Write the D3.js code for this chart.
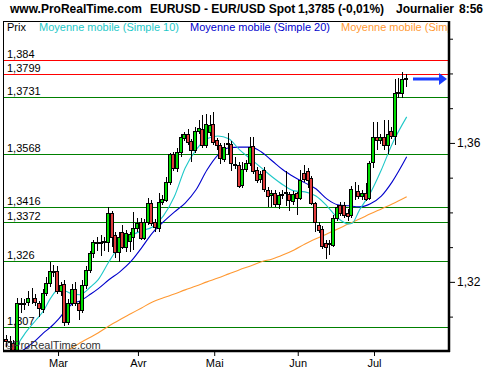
<!DOCTYPE html>
<html>
<head>
<meta charset="utf-8">
<script src="https://cdn.jsdelivr.net/npm/d3@7"></script>
<style>
  body { margin: 0; background: #fff; }
  svg { display: block; font-family: "Liberation Sans", Arial, sans-serif; }
</style>
</head>
<body>
<div id="chart"></div>
<script>
// daily EUR/USD candles, one per trading day (index 0 = first visible day)
const open = [1.3035, 1.3030, 1.3024, 1.3005, 1.3140, 1.3137, 1.3142, 1.3152, 1.3154, 1.3138,
  1.3122, 1.3168, 1.3197, 1.3232, 1.3232, 1.3174, 1.3195, 1.3085, 1.3140, 1.3180,
  1.3140, 1.3118, 1.3191, 1.3235, 1.3283, 1.3315, 1.3313, 1.3316, 1.3316, 1.3398,
  1.3335, 1.3286, 1.3345, 1.3300, 1.3318, 1.3329, 1.3355, 1.3373, 1.3327, 1.3373,
  1.3427, 1.3373, 1.3355, 1.3430, 1.3436, 1.3488, 1.3568, 1.3528, 1.3574, 1.3615,
  1.3626, 1.3605, 1.3580, 1.3634, 1.3640, 1.3594, 1.3632, 1.3655, 1.3609, 1.3594,
  1.3554, 1.3598, 1.3597, 1.3540, 1.3537, 1.3479, 1.3525, 1.3542, 1.3591, 1.3522,
  1.3496, 1.3522, 1.3465, 1.3450, 1.3456, 1.3424, 1.3450, 1.3455, 1.3453, 1.3433,
  1.3455, 1.3442, 1.3512, 1.3520, 1.3499, 1.3427, 1.3364, 1.3352, 1.3312, 1.3310,
  1.3306, 1.3384, 1.3421, 1.3421, 1.3399, 1.3393, 1.3468, 1.3462, 1.3447, 1.3456,
  1.3442, 1.3545, 1.3617, 1.3608, 1.3617, 1.3594, 1.3635, 1.3620, 1.3744, 1.3744,
  1.3786];
const high = [1.3048, 1.3045, 1.3034, 1.3155, 1.3155, 1.3152, 1.3175, 1.3183, 1.3165, 1.3145,
  1.3180, 1.3215, 1.3258, 1.3250, 1.3245, 1.3200, 1.3205, 1.3150, 1.3195, 1.3200,
  1.3145, 1.3205, 1.3245, 1.3290, 1.3320, 1.3330, 1.3335, 1.3330, 1.3416, 1.3405,
  1.3345, 1.3344, 1.3365, 1.3350, 1.3345, 1.3401, 1.3385, 1.3384, 1.3380, 1.3442,
  1.3435, 1.3380, 1.3456, 1.3450, 1.3502, 1.3572, 1.3575, 1.3585, 1.3625, 1.3632,
  1.3640, 1.3610, 1.3646, 1.3666, 1.3680, 1.3683, 1.3681, 1.3689, 1.3615, 1.3600,
  1.3600, 1.3629, 1.3605, 1.3560, 1.3545, 1.3545, 1.3550, 1.3617, 1.3617, 1.3530,
  1.3520, 1.3530, 1.3472, 1.3465, 1.3465, 1.3460, 1.3465, 1.3520, 1.3460, 1.3462,
  1.3460, 1.3522, 1.3537, 1.3528, 1.3505, 1.3430, 1.3372, 1.3360, 1.3320, 1.3320,
  1.3392, 1.3422, 1.3430, 1.3430, 1.3410, 1.3476, 1.3488, 1.3479, 1.3465, 1.3485,
  1.3548, 1.3660, 1.3660, 1.3625, 1.3666, 1.3666, 1.3645, 1.3784, 1.3787, 1.3804,
  1.3799];
const low = [1.3012, 1.3005, 1.3000, 1.3000, 1.3110, 1.3120, 1.3130, 1.3135, 1.3130, 1.3100,
  1.3110, 1.3160, 1.3185, 1.3215, 1.3165, 1.3160, 1.3073, 1.3075, 1.3130, 1.3130,
  1.3091, 1.3110, 1.3180, 1.3225, 1.3270, 1.3290, 1.3275, 1.3290, 1.3286, 1.3300,
  1.3270, 1.3258, 1.3295, 1.3285, 1.3285, 1.3292, 1.3345, 1.3321, 1.3320, 1.3365,
  1.3360, 1.3345, 1.3345, 1.3420, 1.3430, 1.3480, 1.3520, 1.3515, 1.3560, 1.3605,
  1.3595, 1.3545, 1.3570, 1.3625, 1.3585, 1.3585, 1.3620, 1.3595, 1.3580, 1.3540,
  1.3545, 1.3565, 1.3520, 1.3525, 1.3470, 1.3470, 1.3515, 1.3535, 1.3510, 1.3485,
  1.3485, 1.3460, 1.3416, 1.3416, 1.3416, 1.3410, 1.3440, 1.3418, 1.3404, 1.3420,
  1.3393, 1.3435, 1.3488, 1.3470, 1.3420, 1.3344, 1.3340, 1.3295, 1.3266, 1.3278,
  1.3300, 1.3375, 1.3390, 1.3385, 1.3375, 1.3385, 1.3436, 1.3440, 1.3436, 1.3433,
  1.3436, 1.3528, 1.3580, 1.3598, 1.3580, 1.3568, 1.3612, 1.3594, 1.3730, 1.3730,
  1.3761];
const close = [1.3030, 1.3028, 1.3005, 1.3140, 1.3137, 1.3140, 1.3154, 1.3150, 1.3142, 1.3125,
  1.3168, 1.3197, 1.3232, 1.3228, 1.3174, 1.3190, 1.3085, 1.3140, 1.3180, 1.3140,
  1.3118, 1.3191, 1.3235, 1.3283, 1.3315, 1.3312, 1.3316, 1.3318, 1.3398, 1.3329,
  1.3286, 1.3329, 1.3300, 1.3340, 1.3338, 1.3355, 1.3370, 1.3327, 1.3373, 1.3427,
  1.3370, 1.3358, 1.3430, 1.3439, 1.3488, 1.3568, 1.3528, 1.3574, 1.3617, 1.3626,
  1.3603, 1.3580, 1.3634, 1.3643, 1.3594, 1.3655, 1.3652, 1.3603, 1.3594, 1.3557,
  1.3588, 1.3600, 1.3542, 1.3536, 1.3476, 1.3525, 1.3542, 1.3588, 1.3519, 1.3494,
  1.3510, 1.3468, 1.3447, 1.3455, 1.3424, 1.3450, 1.3452, 1.3458, 1.3436, 1.3453,
  1.3442, 1.3494, 1.3496, 1.3494, 1.3427, 1.3373, 1.3350, 1.3303, 1.3300, 1.3312,
  1.3384, 1.3416, 1.3399, 1.3393, 1.3391, 1.3468, 1.3466, 1.3447, 1.3456, 1.3439,
  1.3542, 1.3617, 1.3609, 1.3617, 1.3594, 1.3626, 1.3620, 1.3744, 1.3747, 1.3784,
  1.3785];

// moving averages: [day index, value]
const ma10 = [[2, 1.3000], [3, 1.3021], [5, 1.3053], [8, 1.3091], [10, 1.3117], [12, 1.3154],
  [14, 1.3177], [16, 1.3174], [18, 1.3165], [20, 1.3163], [23, 1.3186], [25, 1.3206],
  [28, 1.3258], [31, 1.3304], [34, 1.3332], [37, 1.3347], [40, 1.3358], [43, 1.3390],
  [46, 1.3445], [49, 1.3528], [52, 1.3580], [55, 1.3612], [58, 1.3620], [61, 1.3612],
  [64, 1.3580], [67, 1.3554], [70, 1.3528], [73, 1.3502], [76, 1.3479], [79, 1.3462],
  [82, 1.3459], [85, 1.3447], [88, 1.3419], [91, 1.3384], [94, 1.3367], [95, 1.3369],
  [97, 1.3407], [100, 1.3456], [103, 1.3522], [106, 1.3597], [110, 1.3675]];
const ma20 = [[4, 1.3000], [6, 1.3016], [8, 1.3033], [10, 1.3053], [12, 1.3070], [14, 1.3091],
  [16, 1.3117], [18, 1.3137], [20, 1.3145], [23, 1.3165], [25, 1.3180], [28, 1.3206],
  [31, 1.3229], [34, 1.3258], [37, 1.3298], [40, 1.3341], [43, 1.3373], [46, 1.3401],
  [49, 1.3427], [52, 1.3465], [55, 1.3522], [58, 1.3565], [61, 1.3586], [64, 1.3588],
  [67, 1.3588], [70, 1.3574], [73, 1.3548], [76, 1.3522], [79, 1.3502], [82, 1.3485],
  [85, 1.3468], [88, 1.3439], [91, 1.3422], [94, 1.3419], [97, 1.3416], [100, 1.3425],
  [103, 1.3447], [106, 1.3488], [110, 1.3560]];
const ma100 = [[16, 1.2998], [20, 1.3024], [25, 1.3053], [28, 1.3073], [31, 1.3091], [34, 1.3108],
  [37, 1.3125], [40, 1.3142], [43, 1.3154], [46, 1.3165], [49, 1.3177], [52, 1.3188],
  [55, 1.3200], [58, 1.3211], [61, 1.3223], [64, 1.3235], [67, 1.3246], [70, 1.3258],
  [73, 1.3266], [76, 1.3278], [79, 1.3292], [82, 1.3309], [85, 1.3324], [88, 1.3338],
  [91, 1.3352], [94, 1.3367], [97, 1.3381], [100, 1.3396], [103, 1.3410], [106, 1.3424],
  [110, 1.3445]];

const levels = [1.384, 1.3799, 1.3731, 1.3568, 1.3416, 1.3372, 1.326, 1.307];
const months = ['Mar', 'Avr', 'Mai', 'Jun', 'Jul'];
const monthStart = [14, 36, 57, 80, 101];
const yMajor = [1.32, 1.36];
const yMinor = [1.31, 1.33, 1.34, 1.35, 1.37, 1.38, 1.39];

const width = 500;
const height = 370;
const frame = { left: 3, right: 449, top: 21, bottom: 351 };
const fmt = v => String(v).replace('.', ',');
const last = close[close.length - 1];

const x = d3.scaleLinear().domain([0, 110]).range([7.2, 406.7]);
const y = d3.scaleLinear().domain([1.3001, 1.3951]).range([351, 21]);

const svg = d3.select('#chart').append('svg')
  .attr('width', width)
  .attr('height', height);

svg.append('rect').attr('width', width).attr('height', height).attr('fill', '#fff');

svg.append('clipPath').attr('id', 'plot')
  .append('rect')
  .attr('x', frame.left + 1)
  .attr('y', frame.top + 1)
  .attr('width', frame.right - frame.left - 2)
  .attr('height', frame.bottom - frame.top - 2);

// title
const title = [
  ['www.ProRealTime.com', 10],
  ['EURUSD - EUR/USD Spot', 150],
  ['1,3785 (-0,01%)', 298],
  ['Journalier', 396],
  ['8:56', 459],
];
svg.append('g').selectAll('text')
  .data(title)
  .enter().append('text')
  .attr('x', d => d[1])
  .attr('y', 13)
  .attr('font-size', 12)
  .attr('font-weight', 'bold')
  .text(d => d[0]);

// legend
const legend = [
  ['Prix', 7, '#000'],
  ['Moyenne mobile (Simple 10)', 39, '#1ec8c8'],
  ['Moyenne mobile (Simple 20)', 190, '#0000cc'],
  ['Moyenne mobile (Simple 100)', 341, '#ff9933'],
];
svg.append('g').attr('clip-path', 'url(#plot)').selectAll('text')
  .data(legend)
  .enter().append('text')
  .attr('x', d => d[1])
  .attr('y', 31)
  .attr('font-size', 11)
  .attr('fill', d => d[2])
  .text(d => d[0]);

const plot = svg.append('g').attr('clip-path', 'url(#plot)');

// support / resistance levels
const lv = plot.append('g').selectAll('g')
  .data(levels)
  .enter().append('g');
lv.append('line')
  .attr('x1', frame.left)
  .attr('x2', frame.right)
  .attr('y1', d => Math.round(y(d)) + 0.5)
  .attr('y2', d => Math.round(y(d)) + 0.5)
  .attr('stroke', d => (d > last ? '#ff0000' : '#008000'))
  .attr('shape-rendering', 'crispEdges');
lv.append('text')
  .attr('x', 7)
  .attr('y', d => Math.round(y(d)) - 2)
  .attr('font-size', 11)
  .text(fmt);

// watermark
svg.append('text')
  .attr('x', 5)
  .attr('y', 349)
  .attr('font-size', 11)
  .attr('fill', '#333')
  .text('©ProRealTime.com');

// moving averages
const maLine = d3.line()
  .x(d => x(d[0]))
  .y(d => y(d[1]))
  .curve(d3.curveMonotoneX);

[[ma100, '#ff9933'], [ma20, '#0000cc'], [ma10, '#1ec8c8']].forEach(([data, color]) => {
  plot.append('path')
    .datum(data)
    .attr('d', maLine)
    .attr('fill', 'none')
    .attr('stroke', color)
    .attr('stroke-width', 1.1);
});

// candles
const idx = d3.range(open.length);
const candle = plot.append('g').selectAll('g')
  .data(idx)
  .enter().append('g');

candle.append('line')
  .attr('x1', i => Math.round(x(i)) - 0.5)
  .attr('x2', i => Math.round(x(i)) - 0.5)
  .attr('y1', i => Math.round(y(high[i])))
  .attr('y2', i => Math.round(y(low[i])))
  .attr('stroke', '#000')
  .attr('shape-rendering', 'crispEdges');

candle.append('rect')
  .attr('x', i => Math.round(x(i)) - 2.5)
  .attr('y', i => Math.round(y(Math.max(open[i], close[i]))) + 0.5)
  .attr('width', 3)
  .attr('height', i => Math.max(0, Math.round(y(Math.min(open[i], close[i]))) - Math.round(y(Math.max(open[i], close[i])))))
  .attr('fill', i => (close[i] >= open[i] ? '#00dd00' : '#e03c3c'))
  .attr('stroke', '#000')
  .attr('shape-rendering', 'crispEdges');

// frame
svg.append('path')
  .attr('d', `M${frame.left + 0.5},${frame.bottom}V${frame.top + 0.5}H${frame.right}`)
  .attr('fill', 'none')
  .attr('stroke', '#000')
  .attr('shape-rendering', 'crispEdges');

svg.append('line')
  .attr('x1', frame.right).attr('x2', frame.right)
  .attr('y1', frame.top).attr('y2', frame.bottom + 1)
  .attr('stroke', '#000').attr('stroke-width', 2.5);

svg.append('line')
  .attr('x1', frame.left).attr('x2', frame.right + 1)
  .attr('y1', frame.bottom).attr('y2', frame.bottom)
  .attr('stroke', '#000').attr('stroke-width', 2.5);

// right price axis
const yMinorAxis = svg.append('g')
  .attr('transform', `translate(${frame.right + 1},0)`)
  .call(d3.axisRight(y).tickValues(yMinor).tickSize(3).tickFormat(''));
yMinorAxis.select('.domain').remove();

const yMajorAxis = svg.append('g')
  .attr('transform', `translate(${frame.right + 1},0)`)
  .call(d3.axisRight(y).tickValues(yMajor).tickSize(5).tickPadding(2).tickFormat(fmt));
yMajorAxis.select('.domain').remove();
yMajorAxis.selectAll('text')
  .attr('font-size', 12)
  .attr('font-family', '"Liberation Sans", Arial, sans-serif');

// month axis
const xAxis = svg.append('g')
  .attr('transform', `translate(0,${frame.bottom + 1})`)
  .call(d3.axisBottom(x).tickValues(monthStart).tickSize(4).tickPadding(3)
    .tickFormat((d, k) => months[k]));
xAxis.select('.domain').remove();
xAxis.selectAll('text')
  .attr('font-size', 11)
  .attr('font-family', '"Liberation Sans", Arial, sans-serif');

// last price arrow
const ay = Math.round(y(last));
svg.append('rect')
  .attr('x', 413)
  .attr('y', ay - 1.5)
  .attr('width', 27)
  .attr('height', 3)
  .attr('fill', '#1a3cff');
svg.append('path')
  .attr('d', `M439,${ay - 6}L447,${ay}L439,${ay + 6}Z`)
  .attr('fill', '#1a3cff');
</script>
</body>
</html>
